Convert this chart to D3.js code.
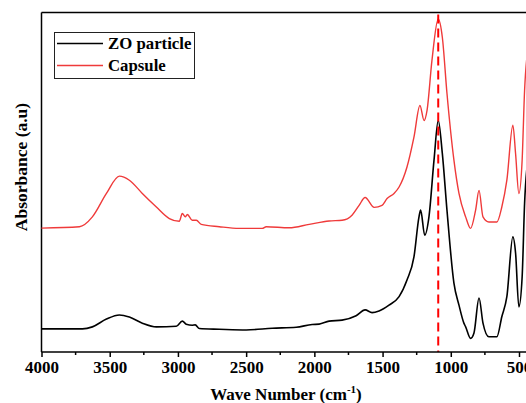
<!DOCTYPE html>
<html>
<head>
<meta charset="utf-8">
<script src="https://cdn.jsdelivr.net/npm/d3@7"></script>
<style>
  body { margin: 0; background: #fff; }
  svg { display: block; font-family: "Liberation Serif", "Times New Roman", serif; }
</style>
</head>
<body>
<div id="chart"></div>
<script>
// FTIR spectra, values (a.u.)
const waveZO = [4000, 3700, 3627, 3524, 3429, 3356, 3261, 3158, 3012, 2968, 2939, 2895, 2873, 2843, 2697, 2499, 2309, 2133, 2016, 1965, 1892, 1797, 1694, 1628, 1577, 1526, 1453, 1379, 1321, 1270, 1233, 1221, 1191, 1160, 1123, 1092, 1062, 1028, 977, 940, 904, 891, 855, 830, 793, 764, 721, 662, 626, 589, 545, 525, 501, 477, 459, 425];
const absZO = [0.068, 0.068, 0.074, 0.097, 0.109, 0.103, 0.085, 0.074, 0.076, 0.091, 0.082, 0.079, 0.080, 0.069, 0.067, 0.065, 0.070, 0.073, 0.081, 0.082, 0.091, 0.094, 0.107, 0.124, 0.116, 0.121, 0.138, 0.163, 0.212, 0.280, 0.398, 0.418, 0.344, 0.398, 0.565, 0.682, 0.585, 0.418, 0.203, 0.138, 0.085, 0.074, 0.040, 0.056, 0.159, 0.085, 0.045, 0.045, 0.104, 0.163, 0.339, 0.291, 0.133, 0.221, 0.438, 0.594];

const waveCap = [4000, 3722, 3627, 3524, 3429, 3356, 3261, 3158, 3063, 2990, 2968, 2946, 2931, 2895, 2865, 2829, 2697, 2551, 2382, 2353, 2185, 2038, 1892, 1797, 1724, 1672, 1628, 1562, 1504, 1467, 1416, 1379, 1321, 1270, 1226, 1196, 1174, 1138, 1092, 1062, 1028, 977, 940, 891, 855, 818, 793, 764, 721, 662, 626, 589, 545, 525, 501, 477, 459, 425];
const absCap = [0.365, 0.369, 0.398, 0.467, 0.518, 0.506, 0.467, 0.427, 0.393, 0.385, 0.408, 0.398, 0.405, 0.388, 0.388, 0.376, 0.369, 0.364, 0.364, 0.369, 0.366, 0.376, 0.386, 0.388, 0.403, 0.432, 0.455, 0.426, 0.432, 0.452, 0.467, 0.486, 0.545, 0.633, 0.726, 0.682, 0.712, 0.859, 0.981, 0.927, 0.762, 0.565, 0.467, 0.398, 0.364, 0.418, 0.476, 0.398, 0.383, 0.383, 0.427, 0.506, 0.668, 0.584, 0.467, 0.565, 0.771, 0.918];

const series = [
  { name: 'ZO particle', wave: waveZO, abs: absZO, color: '#000000', width: 1.6 },
  { name: 'Capsule', wave: waveCap, abs: absCap, color: '#ef3a3a', width: 1.4 }
];

const majorTicks = [4000, 3500, 3000, 2500, 2000, 1500, 1000, 500];
const minorTicks = [3750, 3250, 2750, 2250, 1750, 1250, 750];
const markerWave = 1092;

const W = 526, H = 403;
const plotL = 41.5, plotT = 12.5, plotB = 352;

const svg = d3.select('#chart').append('svg').attr('width', W).attr('height', H);

const x = d3.scaleLinear().domain([4000, 500]).range([plotL, 519]);
const y = d3.scaleLinear().domain([0, 1]).range([plotB, plotT]);

// frame
svg.append('line').attr('x1', plotL).attr('x2', W + 5).attr('y1', plotT).attr('y2', plotT)
  .attr('stroke', '#000').attr('stroke-width', 1.5);
svg.append('line').attr('x1', plotL).attr('x2', plotL).attr('y1', plotT).attr('y2', plotB)
  .attr('stroke', '#000').attr('stroke-width', 1.5);

// spectra
const line = d3.line().x(d => x(d[0])).y(d => y(d[1])).curve(d3.curveMonotoneX);
series.forEach(s => {
  svg.append('path')
    .datum(s.wave.map((w, i) => [w, s.abs[i]]))
    .attr('fill', 'none')
    .attr('stroke', s.color)
    .attr('stroke-width', s.width)
    .attr('stroke-linejoin', 'round')
    .attr('d', line);
});

// marker
svg.append('line')
  .attr('x1', x(markerWave)).attr('x2', x(markerWave))
  .attr('y1', plotT + 2).attr('y2', plotB)
  .attr('stroke', '#ff0000').attr('stroke-width', 2)
  .attr('stroke-dasharray', '9,5');

// x axis
const xAxis = svg.append('g').attr('transform', `translate(0,${plotB})`)
  .call(d3.axisBottom(x).tickValues(majorTicks).tickSize(5).tickSizeOuter(0).tickPadding(4)
    .tickFormat(d3.format('d')));
xAxis.select('.domain').attr('stroke-width', 1.5).attr('d', `M${plotL},0H${W + 5}`);
xAxis.selectAll('.tick line').attr('stroke-width', 1.5);
xAxis.selectAll('.tick text')
  .attr('font-family', '"Liberation Serif", serif')
  .attr('font-weight', 'bold').attr('font-size', 17).attr('fill', '#000');
svg.append('g').selectAll('line').data(minorTicks).join('line')
  .attr('x1', d => x(d)).attr('x2', d => x(d))
  .attr('y1', plotB).attr('y2', plotB + 3)
  .attr('stroke', '#000').attr('stroke-width', 1.5);

// axis titles
const xt = svg.append('text')
  .attr('x', 286).attr('y', 400)
  .attr('text-anchor', 'middle')
  .attr('font-weight', 'bold').attr('font-size', 17);
xt.append('tspan').text('Wave Number (cm');
xt.append('tspan').attr('dy', -7).attr('font-size', 11).text('-1');
xt.append('tspan').attr('dy', 7).text(')');

svg.append('text')
  .attr('transform', 'translate(27,167) rotate(-90)')
  .attr('text-anchor', 'middle')
  .attr('font-weight', 'bold').attr('font-size', 17.5)
  .text('Absorbance (a.u)');

// legend
const lg = svg.append('g');
lg.append('rect').attr('x', 54.5).attr('y', 32.5).attr('width', 140).attr('height', 46)
  .attr('fill', '#fff').attr('stroke', '#222').attr('stroke-width', 1);
series.forEach((s, i) => {
  const ly = 43.5 + i * 22;
  lg.append('line').attr('x1', 57).attr('x2', 103).attr('y1', ly).attr('y2', ly)
    .attr('stroke', s.color).attr('stroke-width', s.width);
  lg.append('text').attr('x', 108).attr('y', ly + 5.5)
    .attr('font-weight', 'bold').attr('font-size', 16.8).attr('fill', '#000')
    .text(s.name);
});
</script>
</body>
</html>
